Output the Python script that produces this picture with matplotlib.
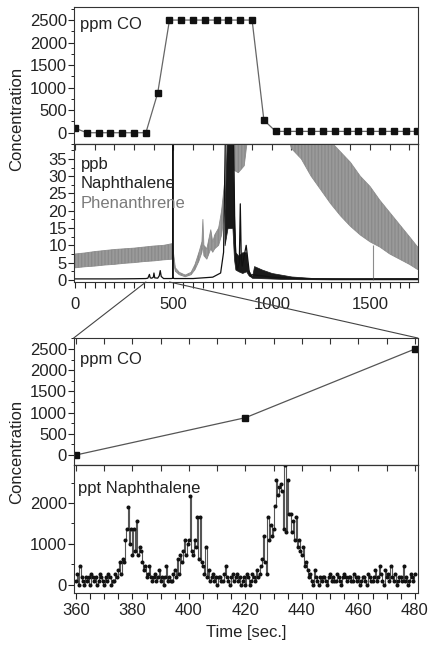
import numpy as np
import matplotlib
matplotlib.use('Agg')
import matplotlib.pyplot as plt
from matplotlib.patches import ConnectionPatch
from matplotlib.ticker import MultipleLocator

plt.rcParams['font.family'] = ['Liberation Sans', 'DejaVu Sans']
plt.rcParams['font.size'] = 12

#%% data
# CO, full run
co_t = [0, 60, 120, 180, 240, 300, 360, 420, 480, 540, 600, 660, 720, 780, 840, 900,
        960, 1020, 1080, 1140, 1200, 1260, 1320, 1380, 1440, 1500, 1560, 1620, 1680, 1740]
co_ppm = [100, 0, 0, 0, 0, 0, 0, 880, 2500, 2500, 2500, 2500, 2500, 2500, 2500, 2500,
          280, 30, 30, 30, 30, 30, 30, 30, 30, 30, 30, 30, 30, 30]

# Phenanthrene (ppb), noise band
phen_t = [0, 50, 100, 150, 200, 250, 300, 350, 400, 450, 495, 500, 510, 530, 560, 590,
          610, 630, 645, 650, 655, 670, 690, 700, 710, 730, 745, 760, 775, 800, 830, 860,
          875, 1090, 1100, 1150, 1200, 1250, 1300, 1350, 1400, 1450, 1500, 1550, 1600,
          1650, 1700, 1742]
phen_lo = [3.5, 3.8, 4.0, 4.3, 4.5, 4.8, 5.0, 5.3, 5.5, 5.8, 6.0, 5.0, 2.5, 1.5, 0.9, 1.5,
           3.0, 5.5, 8.0, 10.0, 7.0, 6.0, 9.0, 8.0, 9.0, 10.0, 13.0, 20.0, 30.0, 32.0, 31.0, 33.0,
           40.0, 40.0, 38.0, 35.0, 30.0, 26.0, 22.0, 18.5, 15.5, 13.0, 11.0, 9.5, 7.5,
           6.0, 4.5, 3.0]
phen_hi = [7.5, 7.8, 8.2, 8.5, 8.8, 9.0, 9.2, 9.5, 9.8, 10.0, 10.5, 8.0, 3.5, 2.2, 1.4, 2.2,
           4.5, 8.0, 11.0, 17.5, 10.0, 9.0, 14.5, 11.0, 13.0, 15.0, 20.0, 28.0, 45.0, 45.0, 45.0, 45.0,
           45.0, 45.0, 45.0, 45.0, 45.0, 45.0, 40.0, 37.0, 34.0, 30.0, 27.0, 23.0, 19.5,
           16.0, 12.5, 9.5]
phen_drop_t = 1515
phen_drop_top = 10.0

# Naphthalene (ppb)
naph_t = [0, 100, 200, 300, 360, 370, 378, 382, 390, 398, 401, 405, 420, 428, 433, 438,
          450, 490, 496, 497, 498, 505, 600, 700, 740, 755, 765, 805, 812, 818, 825, 835,
          840, 845, 850, 870, 885, 890, 900, 950, 1000, 1100, 1200, 1400, 1742]
naph_ppb = [0.3, 0.3, 0.3, 0.35, 0.4, 0.5, 1.6, 0.6, 0.5, 0.8, 2.0, 0.6, 0.5, 1.2, 2.7, 1.0,
            0.4, 0.4, 0.5, 45, 0.5, 0.4, 0.4, 0.8, 2.0, 8.0, 45, 45, 15, 6, 3, 5,
            22, 6, 4, 10, 2.5, 1.0, 1.5, 1.2, 0.8, 0.5, 0.3, 0.25, 0.3]
naph_band_t = [760, 775, 800, 808, 815, 830, 850, 870, 880, 900, 910, 950, 1000, 1050,
               1100, 1150, 1200, 1300, 1742]
naph_band_lo = [10, 15, 15, 6, 3, 2.5, 2, 2.5, 1.5, 0.6, 0.6, 0.5, 0.4, 0.3, 0.25, 0.2, 0.2, 0.15, 0.15]
naph_band_hi = [20, 45, 45, 20, 8, 7, 8, 8, 3, 1, 4, 3, 2, 1.5, 1.0, 0.8, 0.6, 0.5, 0.5]

# zoomed CO
zco_t = [360, 420, 480]
zco_ppm = [0, 880, 2500]

# zoomed Naphthalene (ppt), 0.5 s samples from 360 to 480 s
zn_ppt = [90, 270, 0, 450, 180, 90, 0, 180, 90, 180, 0, 270, 180, 90, 180, 0,
          90, 270, 180, 90, 0, 180, 90, 270, 180, 0, 90, 90, 270, 180, 360, 550,
          270, 640, 550, 1100, 1370, 1900, 1010, 1370, 730, 1370, 820, 1550, 730, 920, 820, 550,
          360, 450, 180, 270, 450, 180, 90, 180, 270, 90, 180, 360, 90, 180, 0, 180,
          450, 90, 180, 90, 90, 270, 360, 180, 640, 270, 730, 550, 820, 1100, 730, 1010,
          1100, 2170, 820, 730, 1100, 920, 1650, 640, 1650, 550, 450, 270, 920, 180, 360, 90,
          180, 270, 90, 180, 0, 180, 180, 90, 90, 270, 450, 180, 90, 0, 180, 270,
          90, 180, 270, 90, 180, 0, 90, 180, 0, 270, 180, 0, 90, 270, 180, 90,
          360, 180, 270, 450, 640, 1200, 550, 270, 1650, 1100, 1470, 1190, 1370, 1920, 2560, 2200,
          2380, 2470, 2290, 1370, 2930, 1280, 2560, 1740, 1740, 1280, 1560, 1100, 1650, 920, 1100, 820,
          730, 920, 450, 550, 360, 180, 270, 90, 0, 360, 180, 90, 0, 180, 90, 180,
          180, 90, 0, 180, 270, 90, 180, 90, 90, 270, 180, 90, 0, 180, 270, 180,
          90, 180, 180, 90, 90, 270, 180, 90, 180, 0, 90, 180, 180, 90, 0, 270,
          180, 90, 90, 180, 360, 90, 180, 450, 270, 90, 0, 360, 180, 270, 90, 450,
          180, 90, 270, 0, 90, 180, 180, 90, 450, 90, 180, 0, 90, 270, 180, 90, 270]
zn_t = np.arange(360, 480.01, 0.5)

#%% layout
W, H = 429, 645
fig = plt.figure(figsize=(W / 100, H / 100), dpi=100)

def box(top, bottom):
    return [73.7 / W, 1 - bottom / H, (417.7 - 73.7) / W, (bottom - top) / H]

ax1 = fig.add_axes(box(7, 144))
ax2 = fig.add_axes(box(144, 282))
ax3 = fig.add_axes(box(338, 465))
ax4 = fig.add_axes(box(465, 593))

for ax in [ax1, ax2, ax3, ax4]:
    for s in ax.spines.values():
        s.set_linewidth(0.8)
        s.set_color('#333333')
    ax.tick_params(axis='y', which='major', direction='out', length=4, width=0.8, pad=1, colors='#222222')
    ax.tick_params(axis='y', which='minor', direction='out', length=2.5, width=0.7, colors='#222222')

#%% panel 1
ax1.plot(co_t, co_ppm, '-', color='#666666', lw=0.9)
ax1.plot(co_t, co_ppm, 's', color='#111111', ms=5)
ax1.set_xlim(-7, 1742)
ax1.set_ylim(-250, 2790)
ax1.set_xticks([])
ax1.yaxis.set_major_locator(MultipleLocator(500))
ax1.yaxis.set_minor_locator(MultipleLocator(250))
ax1.text(0.018, 0.87, 'ppm CO', transform=ax1.transAxes, va='center', ha='left', color='#222222')

#%% panel 2
ax2.fill_between(phen_t, phen_lo, phen_hi, facecolor='#959595', lw=0.6, edgecolor='#8a8a8a',
                 hatch='|||||', alpha=0.95)
ax2.vlines(phen_drop_t, 0, phen_drop_top, color='#8c8c8c', lw=0.8)
ax2.fill_between(naph_band_t, naph_band_lo, naph_band_hi, color='#1a1a1a', lw=0.5, edgecolor='#1a1a1a')
ax2.plot(naph_t, naph_ppb, '-', color='#111111', lw=0.9)
ax2.set_xlim(-7, 1742)
ax2.set_ylim(-0.6, 39.3)
ax2.set_xticks([0, 500, 1000, 1500])
ax2.xaxis.set_minor_locator(MultipleLocator(50))
ax2.tick_params(axis='x', which='both', direction='out', length=4, width=0.8, pad=7, colors='#222222')
ax2.yaxis.set_major_locator(MultipleLocator(5))
ax2.yaxis.set_minor_locator(MultipleLocator(2.5))
sec = ax2.secondary_xaxis('top')
sec.set_xticks(np.arange(0, 1800, 100))
sec.tick_params(direction='in', length=4, width=0.8, labeltop=False, colors='#333333')
ax2.text(0.02, 0.848, 'ppb', transform=ax2.transAxes, va='center', color='#222222')
ax2.text(0.02, 0.715, 'Naphthalene', transform=ax2.transAxes, va='center', color='#222222')
ax2.text(0.02, 0.57, 'Phenanthrene', transform=ax2.transAxes, va='center', color='#7a7a7a')

#%% panel 3
ax3.plot(zco_t, zco_ppm, '-', color='#555555', lw=0.9)
ax3.plot(zco_t, zco_ppm, 's', color='#111111', ms=5)
ax3.set_xlim(359.2, 481)
ax3.set_ylim(-236, 2760)
ax3.set_xticks(np.arange(360, 481, 10))
ax3.tick_params(axis='x', bottom=False, top=True, labelbottom=False, direction='in', length=4, width=0.8, colors='#333333')
ax3.yaxis.set_major_locator(MultipleLocator(500))
ax3.yaxis.set_minor_locator(MultipleLocator(250))
ax3.text(0.018, 0.827, 'ppm CO', transform=ax3.transAxes, va='center', color='#222222')

#%% panel 4
ax4.plot(zn_t, zn_ppt, '-', drawstyle='steps-mid', color='#555555', lw=0.8)
ax4.plot(zn_t, zn_ppt, 'o', color='#111111', ms=1.9)
ax4.set_xlim(359.2, 481)
ax4.set_ylim(-200, 2930)
ax4.set_xticks(np.arange(360, 481, 20))
ax4.xaxis.set_minor_locator(MultipleLocator(5))
ax4.tick_params(axis='x', which='both', direction='out', length=4, width=0.8, pad=3, colors='#222222')
ax4.yaxis.set_major_locator(MultipleLocator(1000))
ax4.yaxis.set_minor_locator(MultipleLocator(500))
sec4 = ax4.secondary_xaxis('top')
sec4.set_xticks(np.arange(360, 481, 10))
sec4.tick_params(direction='in', length=4, width=0.8, labeltop=False, colors='#333333')
ax4.text(0.012, 0.82, 'ppt Naphthalene', transform=ax4.transAxes, va='center', color='#222222')

#%% zoom lines and labels
for xa, xb in [(360, 359.2), (480, 481)]:
    con = ConnectionPatch(xyA=(xa, -0.6), coordsA=ax2.transData,
                          xyB=(xb, 2760), coordsB=ax3.transData,
                          color='#444444', lw=0.8)
    fig.add_artist(con)

fig.text(17 / W, 1 - 119 / H, 'Concentration', rotation=90, ha='center', va='center', color='#222222')
fig.text(17 / W, 1 - 452 / H, 'Concentration', rotation=90, ha='center', va='center', color='#222222')
fig.text(246 / W, 1 - 632 / H, 'Time [sec.]', ha='center', va='center', color='#222222')

fig.savefig('out.png', dpi=100)
